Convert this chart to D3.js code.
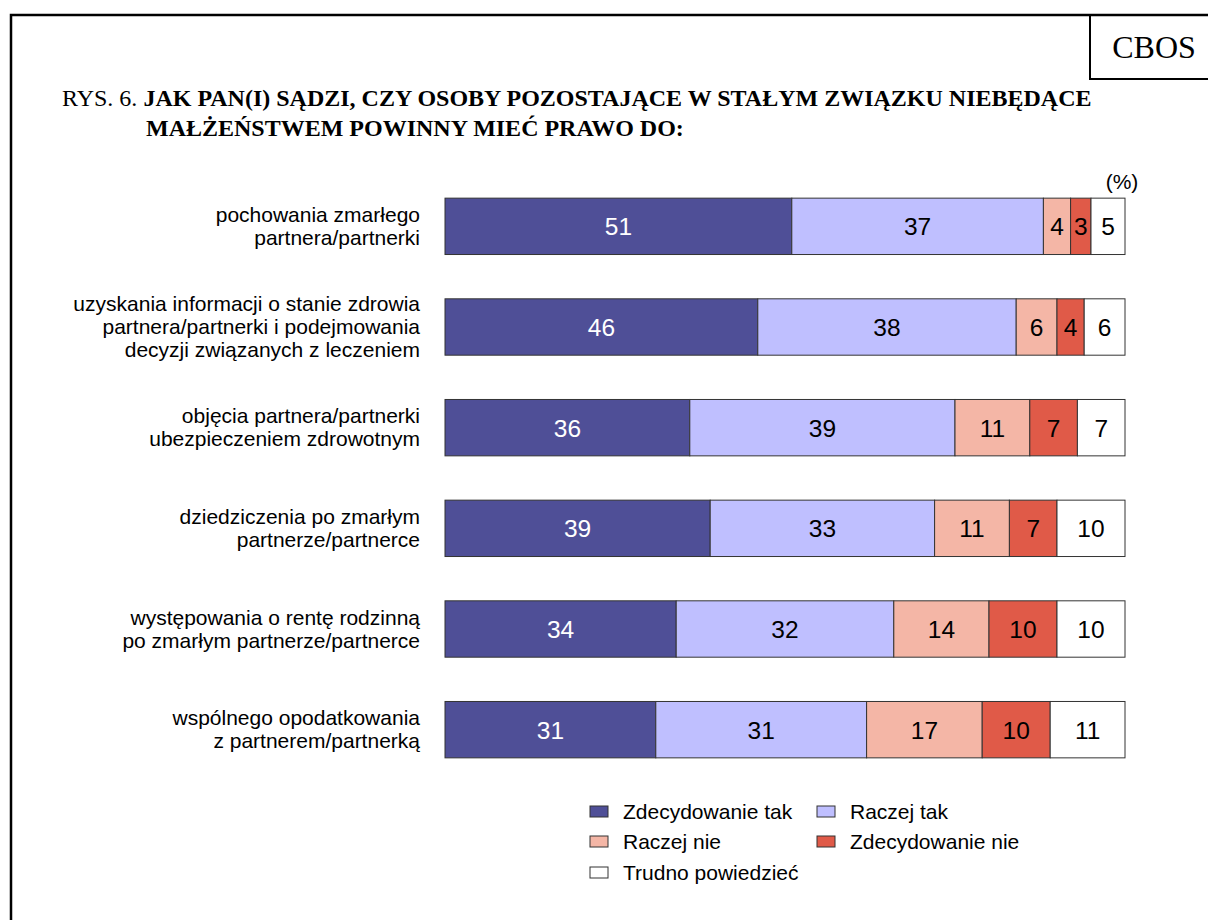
<!DOCTYPE html>
<html><head><meta charset="utf-8">
<script src="https://cdn.jsdelivr.net/npm/d3@7"></script>
<style>body{margin:0;background:#fff}</style>
</head><body>
<script>
const categories = [
  ["pochowania zmarłego","partnera/partnerki"],
  ["uzyskania informacji o stanie zdrowia","partnera/partnerki i podejmowania","decyzji związanych z leczeniem"],
  ["objęcia partnera/partnerki","ubezpieczeniem zdrowotnym"],
  ["dziedziczenia po zmarłym","partnerze/partnerce"],
  ["występowania o rentę rodzinną","po zmarłym partnerze/partnerce"],
  ["wspólnego opodatkowania","z partnerem/partnerką"]
];
const seriesNames = ["Zdecydowanie tak","Raczej tak","Raczej nie","Zdecydowanie nie","Trudno powiedzieć"];
const zdecydowanieTak = [51,46,36,39,34,31];
const raczejTak = [37,38,39,33,32,31];
const raczejNie = [4,6,11,11,14,17];
const zdecydowanieNie = [3,4,7,7,10,10];
const trudnoPowiedziec = [5,6,7,10,10,11];
const colors = ["#4F4F97","#BFBFFF","#F4B6A6","#E05A48","#FFFFFF"];

const W=1208,H=920;
const svg=d3.select("body").append("svg").attr("width",W).attr("height",H);
// frame
svg.append("path").attr("d","M11,920 V15 H1208").attr("fill","none").attr("stroke","#000").attr("stroke-width",2.5);
svg.append("path").attr("d","M1090,15 V79 H1208").attr("fill","none").attr("stroke","#000").attr("stroke-width",2);
svg.append("text").attr("x",1154).attr("y",58).attr("text-anchor","middle")
  .attr("font-family","Liberation Serif").attr("font-size",32).text("CBOS");
const t1=svg.append("text").attr("x",62).attr("y",106).attr("font-family","Liberation Serif").attr("font-size",24);
t1.append("tspan").text("RYS. 6. ");
t1.append("tspan").attr("font-weight","bold").text("JAK PAN(I) SĄDZI, CZY OSOBY POZOSTAJĄCE W STAŁYM ZWIĄZKU NIEBĘDĄCE");
svg.append("text").attr("x",146).attr("y",136).attr("font-family","Liberation Serif").attr("font-size",24)
  .attr("font-weight","bold").text("MAŁŻEŃSTWEM POWINNY MIEĆ PRAWO DO:");

const series=[zdecydowanieTak,raczejTak,raczejNie,zdecydowanieNie,trudnoPowiedziec];
const x=d3.scaleLinear().domain([0,100]).range([445,1125]);
const y=d3.scaleBand().domain(d3.range(categories.length)).range([176,780]).paddingInner(0.44).paddingOuter(0.22);

svg.append("text").attr("x",1122).attr("y",189).attr("text-anchor","middle")
  .attr("font-family","Liberation Sans").attr("font-size",21).text("(%)");

categories.forEach((cat,i)=>{
  let cum=0;
  const yc=y(i)+y.bandwidth()/2;
  series.forEach((s,k)=>{
    const v=s[i];
    svg.append("rect").attr("x",x(cum)).attr("y",y(i)).attr("width",x(cum+v)-x(cum)).attr("height",y.bandwidth())
      .attr("fill",colors[k]).attr("stroke","#333").attr("stroke-width",1);
    svg.append("text").attr("x",(x(cum)+x(cum+v))/2).attr("y",yc+9).attr("text-anchor","middle")
      .attr("font-family","Liberation Sans").attr("font-size",24.5)
      .attr("fill",k===0?"#fff":"#000").text(v);
    cum+=v;
  });
  const n=cat.length, lh=23;
  cat.forEach((line,j)=>{
    svg.append("text").attr("x",420).attr("y",yc+7+(j-(n-1)/2)*lh).attr("text-anchor","end")
      .attr("font-family","Liberation Sans").attr("font-size",21).text(line);
  });
});

// legend
const legPos=[[590,812],[817,812],[590,842],[817,842],[590,873]];
seriesNames.forEach((nm,k)=>{
  const [lx,ly]=legPos[k];
  svg.append("rect").attr("x",lx).attr("y",ly-6).attr("width",18).attr("height",11)
    .attr("fill",colors[k]).attr("stroke","#333").attr("stroke-width",1);
  svg.append("text").attr("x",lx+33).attr("y",ly+7).attr("font-family","Liberation Sans").attr("font-size",21).text(nm);
});
</script>
</body></html>
